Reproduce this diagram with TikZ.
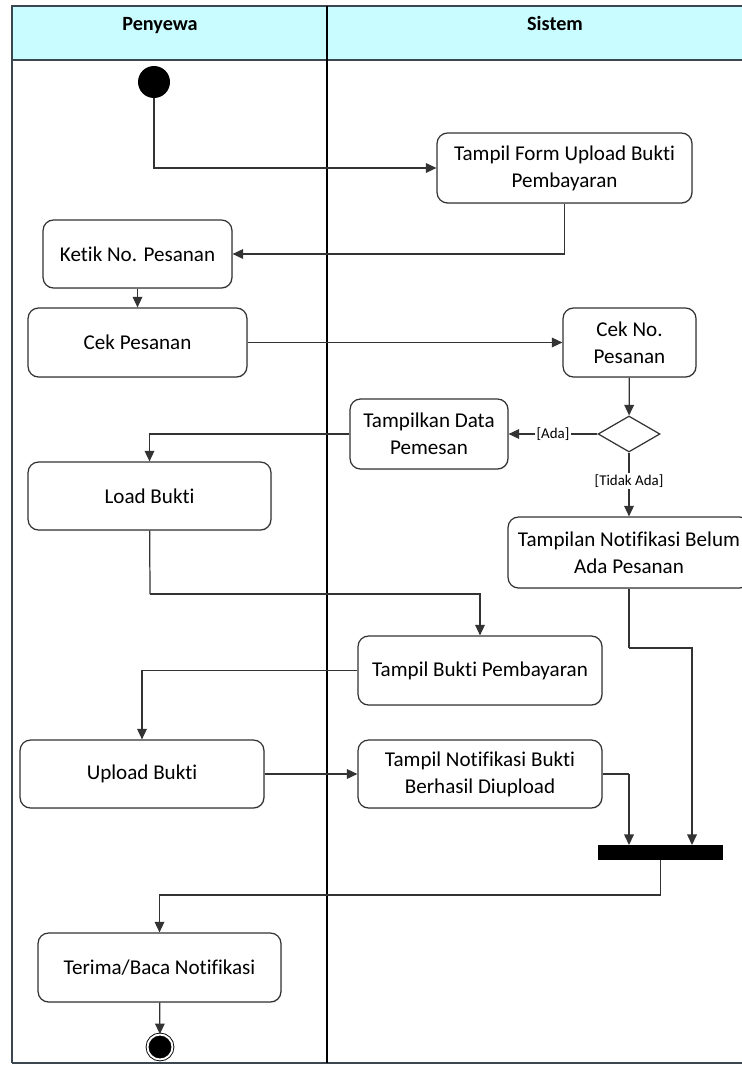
\documentclass[tikz,border=0pt]{standalone}
\usepackage{fontspec}
\setmainfont{Carlito}[Ligatures=NoCommon]
\usetikzlibrary{arrows.meta,shapes.geometric,shadows}
\definecolor{lanehead}{HTML}{C9FCFE}
\definecolor{laneline}{HTML}{3C4650}

\begin{document}
\begin{tikzpicture}[x=0.02cm, y=-0.02cm,
actnode/.style={rectangle, rounded corners=6pt, draw=black!80, line width=0.7pt, fill=white, align=center, inner sep=2pt, font=\fontsize{12}{15.5}\selectfont, drop shadow={opacity=0.15, shadow xshift=0.6pt, shadow yshift=-0.6pt}},
headnode/.style={font=\bfseries\fontsize{11.5}{14}\selectfont, text height=8pt, text depth=2.5pt},
startnode/.style={circle, fill=black, minimum size=0.64cm, inner sep=0pt},
endnode/.style={circle, fill=black, draw=black, line width=0.5pt, double=white, double distance=1.1pt, minimum size=0.5cm, inner sep=0pt},
decnode/.style={diamond, draw=black!80, line width=0.7pt, fill=white, minimum width=1.24cm, minimum height=0.72cm, inner sep=0pt},
barnode/.style={rectangle, fill=black, minimum width=2.5cm, minimum height=0.3cm, inner sep=0pt},
guard/.style={fill=white, inner sep=1pt, font=\fontsize{8.5}{10}\selectfont},
flow/.style={draw=black!80, line width=0.7pt, -{Triangle[length=6pt, width=5.5pt]}},
line/.style={draw=black!80, line width=0.7pt}
]

    \useasboundingbox (0,0) rectangle (742,1067);

    \fill[lanehead] (12,6) rectangle (750,60);
    \draw[laneline, line width=0.8pt] (12,1063) -- (12,6) -- (750,6);
    \draw[laneline, line width=0.8pt] (12,60) -- (750,60);
    \draw[laneline, line width=0.8pt] (12,1063) -- (750,1063);
    \draw[black, line width=0.7pt] (327,6) -- (327,1063);

    \node [headnode] (h1) at (160,26) {Penyewa};
    \node [headnode] (h2) at (555,26) {Sistem};

    \node [startnode] (s1) at (154,82) {};

    \node [actnode, minimum width=5.1cm, minimum height=1.4cm] (f1) at (564.5,168) {Tampil Form Upload Bukti\\Pembayaran};
    \node [actnode, minimum width=3.78cm, minimum height=1.36cm] (k1) at (137.5,254) {Ketik No. Pesanan};
    \node [actnode, minimum width=4.38cm, minimum height=1.38cm] (c1) at (137.5,342.5) {Cek Pesanan};
    \node [actnode, minimum width=2.66cm, minimum height=1.38cm] (c2) at (629.5,342.5) {Cek No.\\Pesanan};

    \node [decnode] (d1) at (629,434) {};

    \node [actnode, minimum width=3.16cm, minimum height=1.4cm] (t1) at (429,434) {Tampilkan Data\\Pemesan};
    \node [actnode, minimum width=4.86cm, minimum height=1.36cm] (l1) at (149.5,496) {Load Bukti};
    \node [actnode, minimum width=4.84cm, minimum height=1.42cm] (n1) at (629,552.5) {Tampilan Notifikasi Belum\\Ada Pesanan};

    \node [actnode, minimum width=4.88cm, minimum height=1.38cm] (b1) at (480,670.5) {Tampil Bukti Pembayaran};
    \node [actnode, minimum width=4.88cm, minimum height=1.36cm] (u1) at (142,774) {Upload Bukti};
    \node [actnode, minimum width=4.88cm, minimum height=1.36cm] (b2) at (480,774) {Tampil Notifikasi Bukti\\Berhasil Diupload};

    \node [barnode] (j0) at (660.5,852.5) {};
    \coordinate (j1) at (629,845);
    \coordinate (j2) at (692,845);

    \node [actnode, minimum width=4.86cm, minimum height=1.38cm] (r1) at (159.5,967.5) {Terima/Baca Notifikasi};
    \node [endnode] (e1) at (160,1047) {};

    \coordinate (m1) at (150,594);
    \coordinate (m2) at (629,648);
    \coordinate (m3) at (629,774);
    \coordinate (m4) at (660.5,895);

    \draw [flow] (s1) |- (f1);
    \draw [flow] (f1) |- (k1);
    \draw [flow] (k1) -- (c1);
    \draw [flow] (c1) -- (c2);
    \draw [flow] (c2) -- (d1);
    \draw [flow] (d1) -- node [guard] {[Ada]} (t1);
    \draw [flow] (d1) -- node [guard, pos=0.45] {[Tidak Ada]} (n1);
    \draw [flow] (t1) -| (l1);
    \draw [line] (l1) -- (m1);
    \draw [flow] (m1) -| (b1);
    \draw [flow] (b1) -| (u1);
    \draw [flow] (u1) -- (b2);
    \draw [line] (b2) -- (m3);
    \draw [flow] (m3) -- (j1);
    \draw [line] (n1) -- (m2);
    \draw [flow] (m2) -| (j2);
    \draw [line] (j0) -- (m4);
    \draw [flow] (m4) -| (r1);
    \draw [flow] (r1) -- (e1);

\end{tikzpicture}
\end{document}
